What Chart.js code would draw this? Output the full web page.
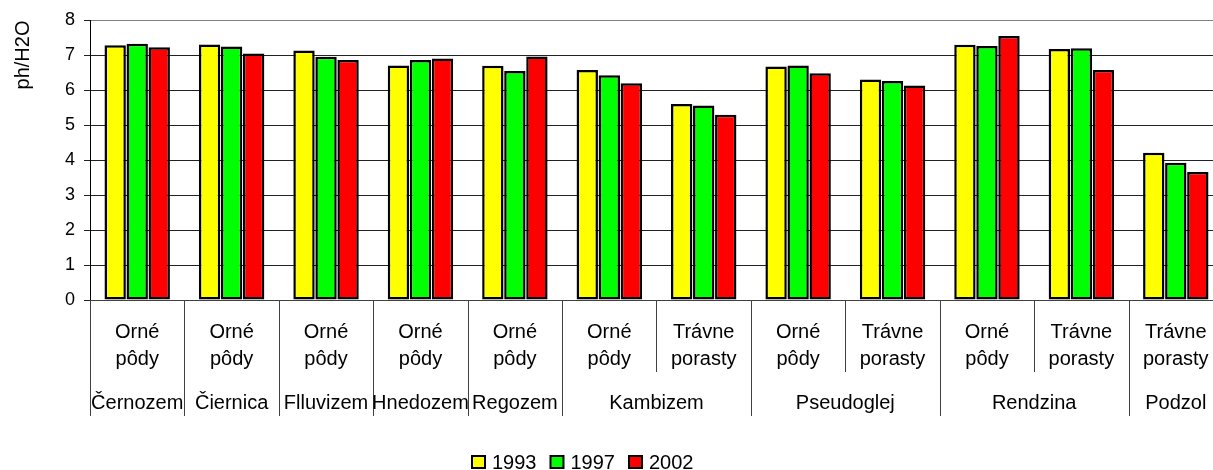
<!DOCTYPE html>
<html>
<head>
<meta charset="utf-8">
<script src="https://cdn.jsdelivr.net/npm/chart.js@4.4.1/dist/chart.umd.min.js"></script>
<style>
  html, body { margin: 0; padding: 0; background: #fff; overflow: hidden; }
  #wrap { width: 1223px; height: 470px; }
</style>
</head>
<body>
<div id="wrap"><canvas id="chart" width="1223" height="470"></canvas></div>
<script>
// ---- data ----
const subLabels = [
  ['Orné', 'pôdy'], ['Orné', 'pôdy'], ['Orné', 'pôdy'], ['Orné', 'pôdy'], ['Orné', 'pôdy'],
  ['Orné', 'pôdy'], ['Trávne', 'porasty'],
  ['Orné', 'pôdy'], ['Trávne', 'porasty'],
  ['Orné', 'pôdy'], ['Trávne', 'porasty'],
  ['Trávne', 'porasty']
];
const groupLabels = ['Černozem', 'Čiernica', 'Flluvizem', 'Hnedozem', 'Regozem', 'Kambizem', 'Pseudoglej', 'Rendzina', 'Podzol'];
const groupSpans = [1, 1, 1, 1, 1, 2, 2, 2, 1];

const years = ['1993', '1997', '2002'];
const ph1993 = [7.28, 7.30, 7.13, 6.70, 6.69, 6.57, 5.60, 6.67, 6.30, 7.29, 7.17, 4.21];
const ph1997 = [7.32, 7.24, 6.95, 6.86, 6.54, 6.42, 5.56, 6.70, 6.26, 7.26, 7.19, 3.92];
const ph2002 = [7.22, 7.04, 6.86, 6.90, 6.96, 6.19, 5.29, 6.48, 6.13, 7.54, 6.57, 3.66];
const yTicks = [0, 1, 2, 3, 4, 5, 6, 7, 8];

const FONT = '"Liberation Sans", Arial, sans-serif';
const colors = ['#ffff00', '#00ff00', '#ff0000'];

// draws the two-level category axis, the y title and the legend
const excelAxis = {
  id: 'excelAxis',
  afterDraw(chart) {
    const ctx = chart.ctx;
    const x = chart.scales.x;
    const step = x.getPixelForValue(1) - x.getPixelForValue(0);
    const y0 = x.top;

    ctx.save();
    ctx.fillStyle = '#000';
    ctx.textAlign = 'center';
    ctx.textBaseline = 'middle';
    ctx.font = '20px ' + FONT;

    // sub-category labels
    subLabels.forEach((lines, i) => {
      const cx = x.getPixelForValue(i);
      ctx.fillText(lines[0], cx, y0 + 32);
      ctx.fillText(lines[1], cx, y0 + 59);
    });

    // separators + group labels
    ctx.strokeStyle = '#404040';
    ctx.lineWidth = 1;
    let idx = 0;
    const groupEdges = new Set([0]);
    groupSpans.forEach(n => { idx += n; groupEdges.add(idx); });
    for (let i = 0; i <= subLabels.length; i++) {
      const px = Math.round(x.getPixelForValue(i) - step / 2) + 0.5;
      const len = groupEdges.has(i) ? 116 : 72;
      ctx.beginPath();
      ctx.moveTo(px, y0);
      ctx.lineTo(px, y0 + len);
      ctx.stroke();
    }
    idx = 0;
    groupLabels.forEach((g, k) => {
      const a = x.getPixelForValue(idx) - step / 2;
      const b = x.getPixelForValue(idx + groupSpans[k] - 1) + step / 2;
      ctx.fillText(g, (a + b) / 2, y0 + 103);
      idx += groupSpans[k];
    });

    // y axis title
    ctx.save();
    ctx.translate(23, 55);
    ctx.rotate(-Math.PI / 2);
    ctx.font = '20px ' + FONT;
    ctx.fillText('ph/H2O', 0, 0);
    ctx.restore();

    // legend
    ctx.font = '20px ' + FONT;
    ctx.textAlign = 'left';
    let lx = 472;
    const ly = 462;
    chart.data.datasets.forEach(ds => {
      ctx.fillStyle = ds.backgroundColor;
      ctx.fillRect(lx, ly - 6, 13, 12);
      ctx.strokeStyle = '#000';
      ctx.lineWidth = 2;
      ctx.strokeRect(lx, ly - 6, 13, 12);
      ctx.fillStyle = '#000';
      ctx.fillText(ds.label, lx + 20, ly + 1);
      lx += 20 + ctx.measureText(ds.label).width + 14;
    });
    ctx.restore();
  }
};

const barStyle = {
  borderColor: '#000',
  borderWidth: 2.5,
  borderSkipped: false,
  barPercentage: 0.97,
  categoryPercentage: 0.7
};

new Chart(document.getElementById('chart'), {
  type: 'bar',
  data: {
    labels: subLabels.map(l => l.join(' ')),
    datasets: [
      Object.assign({ label: years[0], data: ph1993, backgroundColor: colors[0] }, barStyle),
      Object.assign({ label: years[1], data: ph1997, backgroundColor: colors[1] }, barStyle),
      Object.assign({ label: years[2], data: ph2002, backgroundColor: colors[2] }, barStyle)
    ]
  },
  options: {
    responsive: false,
    animation: false,
    layout: { padding: { top: 20, right: 0, left: 0, bottom: 0 } },
    plugins: { legend: { display: false }, tooltip: { enabled: false } },
    scales: {
      x: {
        grid: { display: false },
        border: { color: '#404040', width: 1 },
        ticks: { display: false },
        afterFit(scale) { scale.height = 170; }
      },
      y: {
        min: 0,
        max: 8,
        afterBuildTicks(scale) { scale.ticks = yTicks.map(v => ({ value: v })); },
        grid: {
          color: c => (c.tick && c.tick.value === 8 ? '#808080' : '#222222'),
          tickColor: '#222222',
          tickLength: 6
        },
        border: { color: '#000', width: 1 },
        ticks: { color: '#000', padding: 9, font: { family: FONT, size: 18 } },
        afterFit(scale) { scale.width = 90; }
      }
    }
  },
  plugins: [excelAxis]
});
</script>
</body>
</html>
